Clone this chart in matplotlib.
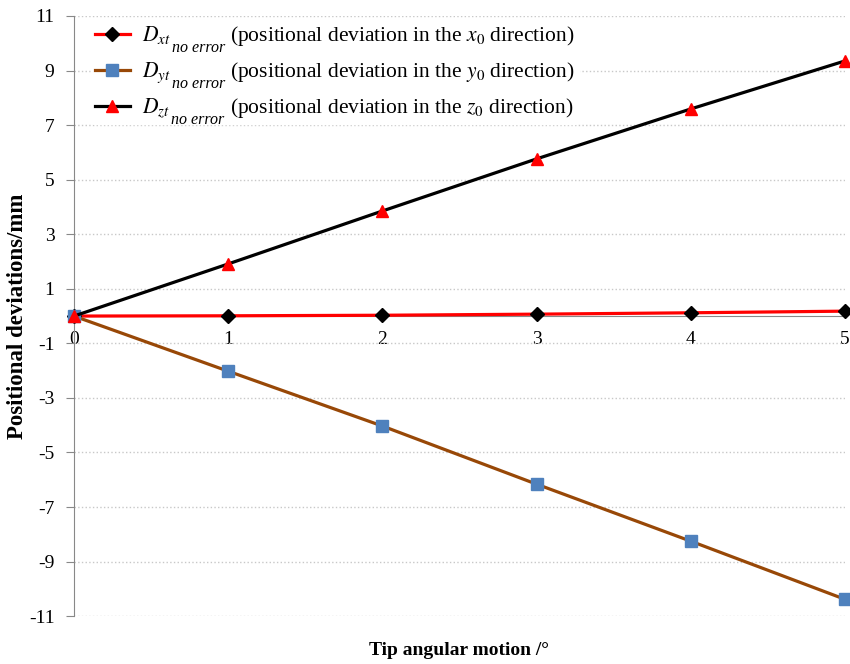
import matplotlib.pyplot as plt

plt.rcParams['font.family'] = ['Liberation Serif', 'DejaVu Serif']
plt.rcParams['mathtext.fontset'] = 'stix'
plt.rcParams['axes.unicode_minus'] = False

# tip angle (deg)
angle = [0, 1, 2, 3, 4, 5]
# deviations in mm
dev_x = [0, 0.01, 0.03, 0.07, 0.12, 0.18]
dev_y = [0, -2.02, -4.03, -6.16, -8.25, -10.38]
dev_z = [0, 1.91, 3.85, 5.76, 7.59, 9.35]

yticks = [11, 9, 7, 5, 3, 1, -1, -3, -5, -7, -9, -11]

heads = [r'$D_{xt}$', r'$D_{yt}$', r'$D_{zt}$']
tails = [r'(positional deviation in the $x_0$ direction)',
         r'(positional deviation in the $y_0$ direction)',
         r'(positional deviation in the $z_0$ direction)']
sub = 'no error'
fs_leg = 15.5

fig = plt.figure(figsize=(8.5, 6.64), dpi=100)
ax = fig.add_axes([0.087, 0.072, 0.907, 0.904])

ax.plot(angle, dev_x, color='#FF0000', lw=2.3, marker='D', ms=7,
        mfc='black', mec='black', label=tails[0], clip_on=False, zorder=3)
ax.plot(angle, dev_y, color='#984807', lw=2.3, marker='s', ms=9,
        mfc='#4F81BD', mec='#4F81BD', label=tails[1], clip_on=False, zorder=3)
ax.plot(angle, dev_z, color='black', lw=2.3, marker='^', ms=9,
        mfc='#FF0000', mec='#FF0000', label=tails[2], clip_on=False, zorder=4)

ax.set_xlim(0, 5)
ax.set_ylim(-11, 11)
ax.set_yticks(yticks)
ax.set_xticks(angle)
ax.grid(axis='y', color='#C8C8C8', ls=':', lw=1)
ax.set_axisbelow(True)

ax.spines['top'].set_visible(False)
ax.spines['right'].set_visible(False)
ax.spines['bottom'].set_position(('data', 0))
ax.spines['bottom'].set_color('#888888')
ax.spines['left'].set_color('#888888')
ax.tick_params(axis='y', length=6, color='#888888', labelsize=14, pad=8)
ax.tick_params(axis='x', length=0, labelsize=14, pad=11)

ax.set_ylabel('Positional deviations/mm', fontsize=16.5, fontweight='bold')
ax.yaxis.set_label_coords(-0.06, 0.5)
ax.set_xlabel('Tip angular motion /°', fontsize=14, fontweight='bold')
ax.xaxis.set_label_coords(0.5, -0.043)

leg = ax.legend(loc='upper left', bbox_to_anchor=(0.022, 0.993), frameon=True,
                fontsize=fs_leg, handlelength=1.6, labelspacing=0.55,
                borderaxespad=0, borderpad=0.2, handletextpad=4.65)
leg.get_frame().set_edgecolor('white')
leg.get_frame().set_alpha(1)

# D_xt etc. written by hand in the gap before each label,
# mathtext would make the "no error" part far too small
fig.canvas.draw()
rend = fig.canvas.get_renderer()
for txt, head, tail in zip(leg.get_texts(), heads, tails):
    bb = txt.get_window_extent(rend)
    tmp = fig.text(0, 0, tail, fontsize=fs_leg, va='baseline', transform=None)
    base = bb.y0 - tmp.get_window_extent(rend).y0
    tmp.remove()
    x0 = bb.x0 - 88
    h = fig.text(x0, base, head, fontsize=fs_leg, va='baseline', transform=None)
    w = h.get_window_extent(rend).width
    fig.text(x0 + w + 1, base - 7, sub, fontsize=11.5, style='italic',
             va='center', ha='left', transform=None)

fig.savefig('out.png', dpi=100)
